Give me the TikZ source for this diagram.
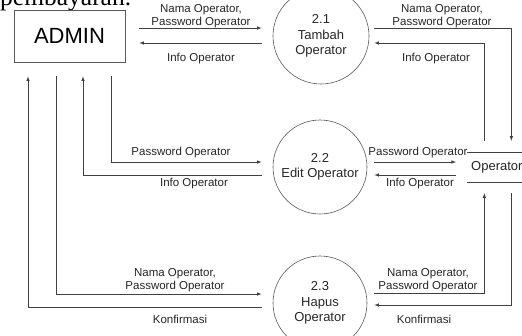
\documentclass[tikz,border=0pt]{standalone}
\usepackage{fontspec}
\setmainfont{Liberation Sans}
\newfontfamily\seriffont{Liberation Serif}
\begin{document}
\begin{tikzpicture}[x=1pt,y=-1pt,
	flow/.style={draw=black!75,line width=.6pt,-latex},
	wire/.style={draw=black!75,line width=.6pt},
	lbl/.style={align=center,inner sep=0pt,text=black!85,font=\fontsize{11.5}{13}\selectfont},
	proc/.style={circle,draw=black!65,line width=.6pt,align=center,inner sep=0pt,text=black!85,font=\fontsize{13}{15.5}\selectfont}]
	\useasboundingbox (0,0) rectangle (522,335);
	\clip (0,0) rectangle (522,335);

	% text of the page above the figure
	\node [anchor=base west,inner sep=0pt,font=\seriffont\fontsize{25.5}{30}\selectfont] (pagetext) at (0,5) {pembayaran.};

	% entity, processes and store
	\node [draw=black!65,line width=.6pt,minimum width=111pt,minimum height=52pt,inner sep=0pt,font=\fontsize{22}{26}\selectfont] (admin) at (69.5,36) {ADMIN};
	\node [proc,minimum size=96pt] (p21) at (321,36) {2.1\\Tambah\\Operator};
	\node [proc,minimum size=94pt] (p22) at (320,167) {2.2\\Edit Operator};
	\node [proc,minimum size=94pt] (p23) at (320,303) {2.3\\Hapus\\Operator};
	\node [anchor=west,inner xsep=4pt,inner ysep=0pt,minimum height=30pt,text=black!85,font=\fontsize{13}{15.5}\selectfont] (store) at (467,167) {Operator};
	\draw [wire] (store.north west) -- (store.north east);
	\draw [wire] (store.south west) -- (store.south east);

	% ADMIN <-> 2.1 <-> Operator
	\draw [flow] ([xshift=14pt,yshift=8pt]admin.east) -- ([xshift=-11pt,yshift=8pt]p21.west);
	\draw [flow] ([xshift=-11pt,yshift=-7pt]p21.west) -- ([xshift=14pt,yshift=-7pt]admin.east);
	\draw [flow] ([xshift=5pt,yshift=8pt]p21.east) -| ([xshift=14.5pt,yshift=11pt]store.north);
	\draw [flow] ([xshift=-12.5pt,yshift=11pt]store.north) |- ([xshift=5pt,yshift=-7pt]p21.east);
	\node [lbl] (l1) at (201,16.5) {Nama Operator,\\Password Operator};
	\node [lbl] (l2) at (201,59) {Info Operator};
	\node [lbl] (l3) at (442,16.5) {Nama Operator,\\Password Operator};
	\node [lbl] (l4) at (436,59) {Info Operator};

	% ADMIN <-> 2.2 <-> Operator
	\draw [flow] ([xshift=41.5pt,yshift=-14pt]admin.south) |- ([xshift=-11pt,yshift=5pt]p22.west);
	\draw [flow] ([xshift=-11pt,yshift=-8pt]p22.west) -| ([xshift=13.5pt,yshift=-14pt]admin.south);
	\draw [flow] ([xshift=7pt,yshift=5pt]p22.east) -- ([xshift=-11pt,yshift=5pt]store.west);
	\draw [flow] ([xshift=-11pt,yshift=-8pt]store.west) -- ([xshift=7pt,yshift=-8pt]p22.east);
	\node [lbl] (l5) at (181,153) {Password Operator};
	\node [lbl] (l6) at (194,184) {Info Operator};
	\node [lbl] (l7) at (418,153) {Password Operator};
	\node [lbl] (l8) at (420,184) {Info Operator};

	% ADMIN <-> 2.3 <-> Operator
	\draw [flow] ([xshift=-13.5pt,yshift=-14pt]admin.south) |- ([xshift=-11pt,yshift=9pt]p23.west);
	\draw [flow] ([xshift=-11pt,yshift=-4pt]p23.west) -| ([xshift=-41.5pt,yshift=-14pt]admin.south);
	\draw [flow] ([xshift=7pt,yshift=10pt]p23.east) -| ([xshift=-12.5pt,yshift=-11pt]store.south);
	\draw [flow] ([xshift=14.5pt,yshift=-11pt]store.south) |- ([xshift=7pt,yshift=-2pt]p23.east);
	\node [lbl] (l9) at (175,280) {Nama Operator,\\Password Operator};
	\node [lbl] (l10) at (180,319) {Konfirmasi};
	\node [lbl] (l11) at (428,280) {Nama Operator,\\Password Operator};
	\node [lbl] (l12) at (424,319) {Konfirmasi};
\end{tikzpicture}
\end{document}
